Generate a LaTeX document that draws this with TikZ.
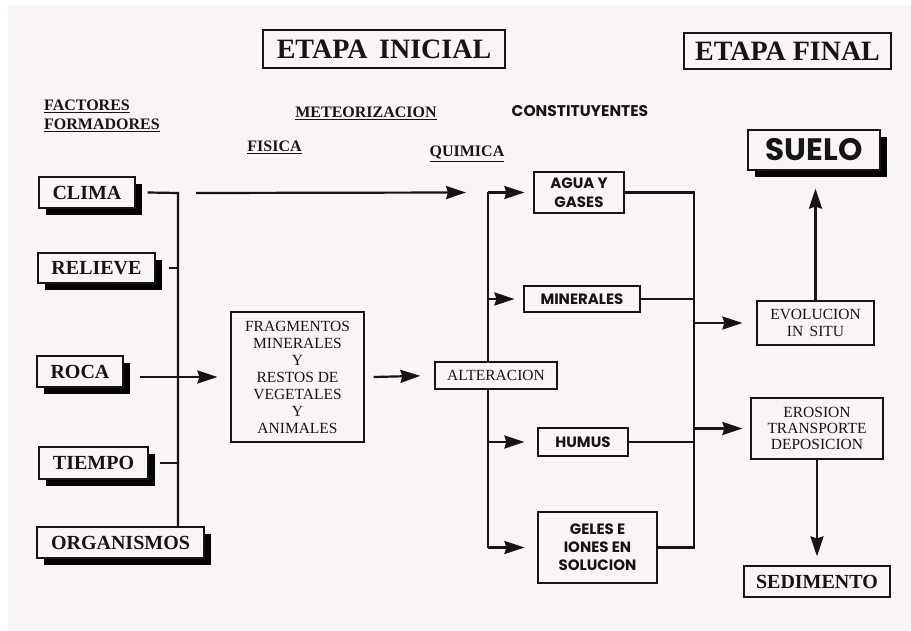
\documentclass[tikz,border=0pt]{standalone}
\usepackage{fontspec}
\setmainfont{Liberation Serif}
\newfontfamily\gothic{Poppins}
\usetikzlibrary{arrows.meta,shadows}
\definecolor{paper}{HTML}{FAF5F5}
\definecolor{ink}{HTML}{151515}
\begin{document}
\begin{tikzpicture}[x=1pt,y=-1pt,
  box/.style={draw=ink, line width=1.3pt, fill=paper, inner sep=0pt, align=center, text=ink},
  shad/.style={drop shadow={shadow xshift=7pt, shadow yshift=-7pt, fill=black, opacity=1}},
  conn/.style={line width=2.2pt, draw=ink},
  arr/.style={conn, -{Stealth[length=20pt,width=13pt,inset=2pt]}},
  bigf/.style={font=\fontsize{28}{30}\selectfont\bfseries},
  facf/.style={font=\fontsize{20}{24}\selectfont\bfseries},
  headf/.style={font=\fontsize{16}{20}\selectfont\bfseries, text=ink},
  sansf/.style={font=\gothic\fontsize{15}{19}\selectfont\bfseries},
  serf/.style={font=\fontsize{15.5}{17}\selectfont},
]
\useasboundingbox (0,0) rectangle (911,631);
\fill[white] (0,0) rectangle (911,631);
\fill[paper] (8,5) rectangle (911,631);

% titles
\node[box, bigf, minimum width=242pt, minimum height=38pt] (ini) at (384,49) {ETAPA\, INICIAL};
\node[box, bigf, minimum width=207pt, minimum height=36pt] (fin) at (787.5,51) {ETAPA FINAL};
\node[box, shad, font=\gothic\fontsize{31}{34}\selectfont\bfseries, minimum width=132pt, minimum height=40pt] (suelo) at (814,150) {SUELO};

% headings
\node[headf, anchor=base west, align=left, inner sep=0pt] (fact) at (44,130) {\underline{FACTORES}\\[-1pt]\underline{FORMADORES}};
\node[headf, anchor=base, inner sep=0pt] (meteo) at (366,118) {\underline{METEORIZACION}};
\node[font=\gothic\fontsize{15.5}{18}\selectfont\bfseries, anchor=base, inner sep=0pt, text=ink] (const) at (580,117) {CONSTITUYENTES};
\node[headf, anchor=base, inner sep=0pt] (fis) at (274.5,152) {\underline{FISICA}};
\node[headf, anchor=base, inner sep=0pt] (quim) at (467,157) {\underline{QUIMICA}};

% factor boxes
\node[box, shad, facf, minimum width=96pt, minimum height=31pt] (clima) at (87,192.5) {CLIMA};
\node[box, shad, facf, minimum width=117pt, minimum height=30pt] (relieve) at (96.5,268) {RELIEVE};
\node[box, shad, facf, minimum width=86pt, minimum height=31pt] (roca) at (80,371.5) {ROCA};
\node[box, shad, facf, minimum width=109pt, minimum height=32pt] (tiempo) at (93.5,463) {TIEMPO};
\node[box, shad, facf, minimum width=167pt, minimum height=31pt] (org) at (120.5,542.5) {ORGANISMOS};

% coordinates of vertical bars
\coordinate (vb) at (178,193);
\coordinate (ax) at (488,0);
\coordinate (cx) at (694,0);

% connectors from factors
\draw[conn] ([xshift=12pt]clima.east) -- (vb) -- (vb |- org.north);
\draw[conn] ([xshift=13pt]relieve.east) -- (relieve.east -| vb);
\draw[conn] ([xshift=11pt]tiempo.east) -- (tiempo.east -| vb);

% fragmentos
\node[box, serf, minimum width=133pt, minimum height=130pt] (frag) at (297.5,377)
  {FRAGMENTOS\\MINERALES\\Y\\RESTOS DE\\VEGETALES\\Y\\ANIMALES};
\draw[arr, shorten >=13pt] ([xshift=16pt]roca.east |- frag.west) -- (frag.west);

% alteracion
\node[box, serf, minimum width=122pt, minimum height=27pt] (alt) at (496,375.5) {ALTERACION};
\draw[arr, shorten >=14pt] ([xshift=9pt]frag.east) -- (alt.west);

% constituents
\node[box, sansf, minimum width=90pt, minimum height=41pt] (agua) at (579,192.5) {AGUA Y\\GASES};
\node[box, sansf, minimum width=116pt, minimum height=26pt] (min) at (582,299) {MINERALES};
\node[box, sansf, minimum width=90pt, minimum height=28pt] (hum) at (583,442) {HUMUS};
\node[box, sansf, minimum width=119pt, minimum height=71pt, font=\gothic\fontsize{15}{18}\selectfont\bfseries] (gel) at (597.5,547.5) {GELES E\\IONES EN\\SOLUCION};

% long arrow from clima
\draw[arr] ([xshift=18pt]vb) -- ([xshift=-22pt]agua.west -| ax);

% alteracion trunk
\draw[conn] (alt.north -| ax) -- (agua.west -| ax);
\draw[conn] (alt.south -| ax) -- (gel.west -| ax);
\draw[arr, shorten >=9pt] (agua.west -| ax) -- (agua.west);
\draw[arr, shorten >=9pt] (min.west -| ax) -- (min.west);
\draw[arr, shorten >=13pt] (hum.west -| ax) -- (hum.west);
\draw[arr, shorten >=13pt] (gel.west -| ax) -- (gel.west);

% collector
\draw[conn] (agua.east) -- (agua.east -| cx) -- (gel.east -| cx) -- (gel.east);
\draw[conn] (min.east) -- (min.east -| cx);
\draw[conn] (hum.east) -- (hum.east -| cx);

% final stage
\node[box, serf, minimum width=117pt, minimum height=44pt] (evo) at (815.5,323) {EVOLUCION\\IN\, SITU};
\node[box, serf, font=\fontsize{15.5}{16}\selectfont, minimum width=132pt, minimum height=61pt] (ero) at (817,428.5) {EROSION\\TRANSPORTE\\DEPOSICION};
\node[box, font=\fontsize{20}{24}\selectfont\bfseries, minimum width=146pt, minimum height=31pt] (sed) at (817,581.5) {SEDIMENTO};

\draw[arr, shorten >=14pt] (evo.west -| cx) -- (evo.west);
\draw[arr, shorten >=8pt] (ero.west -| cx) -- (ero.west);
\draw[arr, shorten >=18pt] (evo.north) -- (evo.north |- suelo.south);
\draw[arr, shorten >=9pt] (ero.south) -- (ero.south |- sed.north);
\end{tikzpicture}
\end{document}
